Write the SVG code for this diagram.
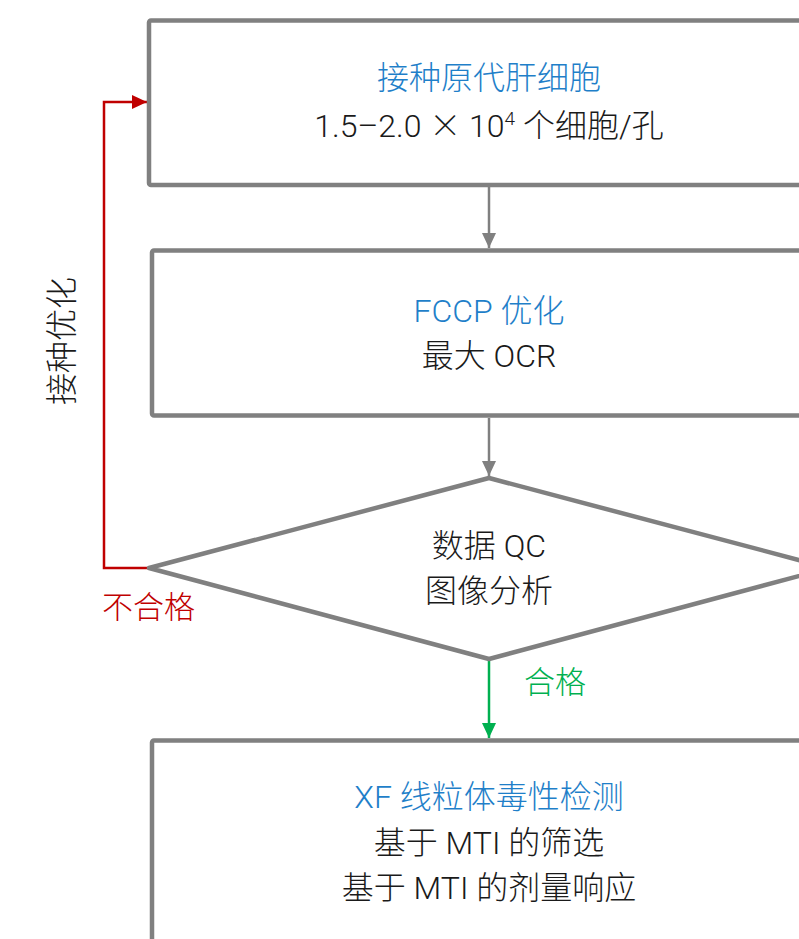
<svg xmlns="http://www.w3.org/2000/svg" width="799" height="939" viewBox="0 0 799 939">
<style>
.box{fill:#ffffff;stroke:#808080;stroke-width:4.5;stroke-linejoin:round}
.t{font-family:Roboto,"Noto Sans CJK SC",sans-serif;font-weight:300;font-size:32px;text-anchor:middle}
.lbl{font-family:Roboto,"Noto Sans CJK SC",sans-serif;font-weight:300;font-size:31px}
.title{fill:#1f7fc9}
.body{fill:#1a1a1a}
.gray{stroke:#808080;stroke-width:2.5;fill:none}
.red{stroke:#c00000;stroke-width:2.5;fill:none}
.green{stroke:#00b050;stroke-width:2.5;fill:none}
</style>
<defs>
<marker id="ag" markerWidth="16" markerHeight="14" refX="15" refY="7" orient="auto" markerUnits="userSpaceOnUse"><path d="M0,0 L15,7 L0,14 Z" fill="#808080"/></marker>
<marker id="ar" markerWidth="16" markerHeight="14" refX="15" refY="7" orient="auto" markerUnits="userSpaceOnUse"><path d="M0,0 L15,7 L0,14 Z" fill="#c00000"/></marker>
<marker id="agr" markerWidth="16" markerHeight="14" refX="15" refY="7" orient="auto" markerUnits="userSpaceOnUse"><path d="M0,0 L15,7 L0,14 Z" fill="#00b050"/></marker>
</defs>
<g id="connectors">
<line class="gray" x1="489" y1="187" x2="489" y2="248" marker-end="url(#ag)"/>
<line class="gray" x1="489" y1="418" x2="489" y2="476" marker-end="url(#ag)"/>
<line class="green" x1="489" y1="661" x2="489" y2="738" marker-end="url(#agr)"/>
<polyline class="red" points="150,568 104,568 104,102 147,102" marker-end="url(#ar)"/>
<text class="lbl" x="524" y="693" fill="#00b050">合格</text>
<text class="lbl" x="102" y="618" fill="#c00000">不合格</text>
<text class="t body" font-size="31" transform="translate(73,341) rotate(-90)">接种优化</text>
</g>
<g id="node1">
<rect class="box" x="149" y="20.5" width="680" height="164.5" rx="2"/>
<text class="t title" x="489" y="89">接种原代肝细胞</text>
<text class="t body" x="489" y="137">1.5–2.0 <tspan font-family="Noto Sans CJK SC">×</tspan> 10<tspan font-size="19" dy="-12">4</tspan><tspan dy="12"> 个细胞/孔</tspan></text>
</g>
<g id="node2">
<rect class="box" x="152" y="250.5" width="680" height="165" rx="2"/>
<text class="t title" x="489" y="322">FCCP 优化</text>
<text class="t body" x="489" y="367">最大 OCR</text>
</g>
<g id="node3">
<polygon class="box" points="149,568 489,478 829,568 489,659"/>
<text class="t body" x="489" y="557">数据 QC</text>
<text class="t body" x="489" y="602">图像分析</text>
</g>
<g id="node4">
<rect class="box" x="152" y="740.5" width="680" height="240" rx="2"/>
<text class="t title" x="489" y="808">XF 线粒体毒性检测</text>
<text class="t body" x="489" y="854">基于 MTI 的筛选</text>
<text class="t body" x="489" y="899">基于 MTI 的剂量响应</text>
</g>
</svg>
